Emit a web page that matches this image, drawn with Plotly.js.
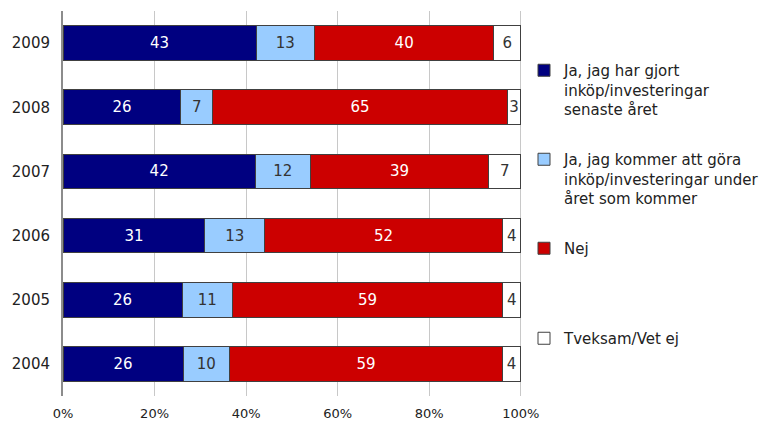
<!DOCTYPE html>
<html>
<head>
<meta charset="utf-8">
<script src="https://cdn.plot.ly/plotly-3.0.1.min.js"></script>
<style>
  html, body { margin: 0; padding: 0; background: #ffffff; }
  #chart { width: 773px; height: 421px; }
</style>
</head>
<body>
<div id="chart"></div>
<script>
// Data (top-to-bottom as in the picture)
const years = ['2009', '2008', '2007', '2006', '2005', '2004'];
const seriesNames = [
  'Ja, jag har gjort<br>inköp/investeringar<br>senaste året',
  'Ja, jag kommer att göra<br>inköp/investeringar under<br>året som kommer',
  'Nej',
  'Tveksam/Vet ej'
];
const gjort    = [43, 26, 42, 31, 26, 26];
const kommer   = [13,  7, 12, 13, 11, 10];
const nej      = [40, 65, 39, 52, 59, 59];
const tveksam  = [ 6,  3,  7,  4,  4,  4];
const xTickVals = [0, 20, 40, 60, 80, 100];
const xTickText = ['0%', '20%', '40%', '60%', '80%', '100%'];

const colors = ['#000080', '#99CCFF', '#CC0000', '#FFFFFF'];
const textColors = ['#ffffff', '#333333', '#ffffff', '#333333'];
const values = [gjort, kommer, nej, tveksam];
const legendIds = ['legend', 'legend2', 'legend3', 'legend4'];

const FONT = '"DejaVu Sans", Verdana, sans-serif';

const traces = values.map((v, i) => ({
  type: 'bar',
  orientation: 'h',
  name: seriesNames[i],
  y: years,
  x: v,
  text: v.map(String),
  textposition: 'inside',
  insidetextanchor: 'middle',
  textangle: 0,
  constraintext: 'none',
  insidetextfont: { family: FONT, size: 15, color: textColors[i] },
  marker: { color: colors[i], line: { color: '#404040', width: 1 } },
  legend: legendIds[i],
  hoverinfo: 'none'
}));

const legendBase = (yTop) => ({
  xref: 'container', yref: 'container',
  x: 524 / 773, xanchor: 'left',
  y: 1 - yTop / 421, yanchor: 'top',
  valign: 'top',
  bgcolor: 'rgba(0,0,0,0)',
  font: { family: FONT, size: 15, color: '#222222' }
});

const layout = {
  width: 773,
  height: 421,
  margin: { l: 63, r: 251, t: 11, b: 25, pad: 0 },
  paper_bgcolor: '#ffffff',
  plot_bgcolor: '#ffffff',
  barmode: 'stack',
  barnorm: 'percent',
  bargap: 0.46,
  font: { family: FONT, color: '#222222' },
  xaxis: {
    range: [0, 100.25],
    tickvals: xTickVals,
    ticktext: xTickText,
    showgrid: true,
    gridcolor: '#c8c8c8',
    gridwidth: 1,
    zeroline: false,
    showline: false,
    ticks: '',
    ticklabelstandoff: 8,
    tickfont: { family: FONT, size: 13, color: '#222222' },
    fixedrange: true
  },
  yaxis: {
    type: 'category',
    autorange: 'reversed',
    showgrid: false,
    zeroline: false,
    showline: true,
    linecolor: '#8c8c8c',
    linewidth: 2,
    ticks: '',
    ticklabelstandoff: 8,
    tickfont: { family: FONT, size: 15, color: '#222222' },
    fixedrange: true
  },
  showlegend: true,
  legend: legendBase(54),
  legend2: legendBase(143),
  legend3: legendBase(232),
  legend4: legendBase(322)
};

Plotly.newPlot('chart', traces, layout, { displayModeBar: false, staticPlot: true });
</script>
</body>
</html>
